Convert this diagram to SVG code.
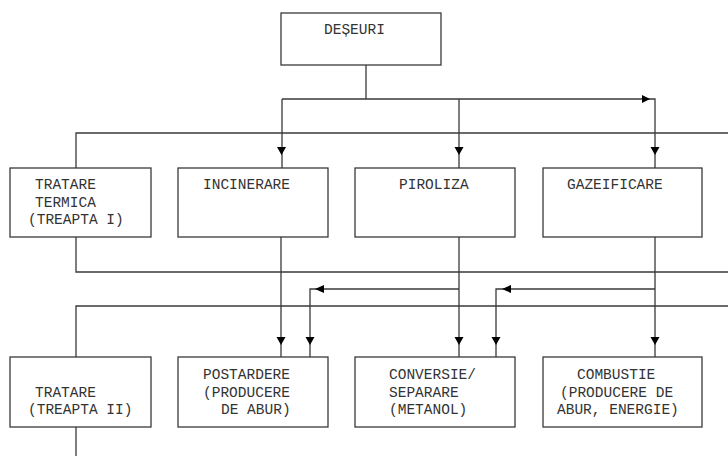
<svg xmlns="http://www.w3.org/2000/svg" width="728" height="456" viewBox="0 0 728 456">
<style>
.box{fill:#fff;stroke:#3a3a3a;stroke-width:1.3}
.ln{fill:none;stroke:#3a3a3a;stroke-width:1.3}
.ah{fill:#000}
text{font-family:"Liberation Mono","Courier New",monospace;font-size:14.5px;fill:#333;white-space:pre}
</style>
<rect width="728" height="456" fill="#fff"/>
<g id="connectors">
<path class="ln" d="M366 65V99M282 99H655V168M282 99V168M459 99V168"/>
<polygon class="ah" points="642,95 650,99 642,103"/>
<path class="ln" d="M76 168V133H728"/>
<polygon class="ah" points="277,147 286,147 281.5,155"/>
<polygon class="ah" points="454.5,147 463.5,147 459,155"/>
<polygon class="ah" points="650.5,147 659.5,147 655,155"/>
<path class="ln" d="M76 237V272H728"/>
<path class="ln" d="M76 357V306H728"/>
<path class="ln" d="M281 237V357M459 237V357M655 237V357"/>
<path class="ln" d="M459 289H310V357M655 289H496V357"/>
<polygon class="ah" points="315,289 324,285 324,293"/>
<polygon class="ah" points="502,289 511,285 511,293"/>
<polygon class="ah" points="276.5,337 285.5,337 281,345"/>
<polygon class="ah" points="305.5,337 314.5,337 310,345"/>
<polygon class="ah" points="454.5,337 463.5,337 459,345"/>
<polygon class="ah" points="491.5,337 500.5,337 496,345"/>
<polygon class="ah" points="650.5,337 659.5,337 655,345"/>
<path class="ln" d="M76 427V456"/>
</g>
<g id="deseuri"><rect class="box" x="281" y="13" width="160" height="52"/><text x="324" y="34">DEȘEURI</text></g>
<g id="tratare1"><rect class="box" x="10" y="168" width="141" height="69"/><text x="35" y="189">TRATARE</text><text x="35" y="207">TERMICA</text><text x="28" y="224">(TREAPTA I)</text></g>
<g id="incinerare"><rect class="box" x="178" y="168" width="150" height="69"/><text x="203" y="189">INCINERARE</text></g>
<g id="piroliza"><rect class="box" x="355" y="168" width="160" height="69"/><text x="399" y="189">PIROLIZA</text></g>
<g id="gazeificare"><rect class="box" x="543" y="168" width="159" height="69"/><text x="567" y="189">GAZEIFICARE</text></g>
<g id="tratare2"><rect class="box" x="10" y="357" width="141" height="70"/><text x="35" y="397">TRATARE</text><text x="28" y="414">(TREAPTA II)</text></g>
<g id="postardere"><rect class="box" x="178" y="357" width="150" height="70"/><text x="203" y="379">POSTARDERE</text><text x="203" y="397">(PRODUCERE</text><text x="221" y="414">DE ABUR)</text></g>
<g id="conversie"><rect class="box" x="355" y="357" width="160" height="70"/><text x="389" y="379">CONVERSIE/</text><text x="389" y="397">SEPARARE</text><text x="389" y="414">(METANOL)</text></g>
<g id="combustie"><rect class="box" x="543" y="357" width="159" height="70"/><text x="577" y="379">COMBUSTIE</text><text x="560" y="397">(PRODUCERE DE</text><text x="557" y="414">ABUR, ENERGIE)</text></g>
</svg>
